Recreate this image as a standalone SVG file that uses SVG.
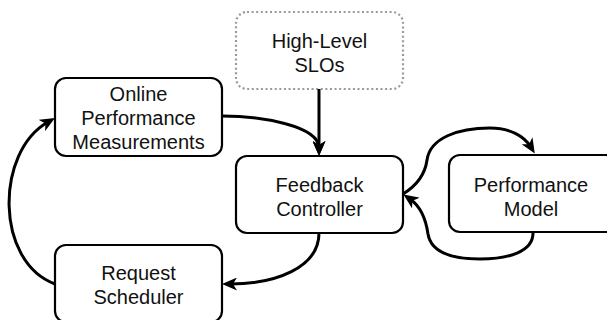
<svg xmlns="http://www.w3.org/2000/svg" width="607" height="320" viewBox="0 0 607 320">
<style>
.box{fill:#fff;stroke:#000;stroke-width:2.2}
.dot{fill:#fff;stroke:#999;stroke-width:2.2;stroke-dasharray:2 2.6}
.lbl{font-family:"Liberation Sans",Arial,Helvetica,sans-serif;font-size:20px;fill:#111;text-anchor:middle}
.edge{fill:none;stroke:#000;stroke-width:3}
</style>
<defs>
<marker id="arr" markerUnits="userSpaceOnUse" viewBox="0 0 15 13" markerWidth="15" markerHeight="13" refX="7" refY="6.5" orient="auto">
<path d="M0,0 L15,6.5 L0,13 L4,6.5 Z" fill="#000"/>
</marker>
</defs>
<g id="slos">
<rect class="dot" x="236" y="12" width="167" height="77" rx="11"/>
<text class="lbl" x="319.5" y="48">High-Level</text>
<text class="lbl" x="319.5" y="72">SLOs</text>
</g>
<g id="online">
<rect class="box" x="55" y="78" width="167" height="78" rx="11"/>
<text class="lbl" x="138.5" y="101">Online</text>
<text class="lbl" x="138.5" y="125">Performance</text>
<text class="lbl" x="138.5" y="149">Measurements</text>
</g>
<g id="feedback">
<rect class="box" x="236" y="156" width="167" height="77" rx="11"/>
<text class="lbl" x="319.5" y="192">Feedback</text>
<text class="lbl" x="319.5" y="216">Controller</text>
</g>
<g id="perfmodel">
<rect class="box" x="449" y="155" width="167" height="77" rx="11"/>
<text class="lbl" x="531" y="192">Performance</text>
<text class="lbl" x="531" y="216">Model</text>
</g>
<g id="scheduler">
<rect class="box" x="55" y="245" width="167" height="77" rx="11"/>
<text class="lbl" x="138.5" y="280">Request</text>
<text class="lbl" x="138.5" y="304">Scheduler</text>
</g>
<g id="connectors">
<path class="edge" d="M319,89 L319,148" marker-end="url(#arr)"/>
<path class="edge" d="M222,116 C262,116 319,126 319,148" marker-end="url(#arr)"/>
<path class="edge" d="M319,233 C319,268 275,284 230,284" marker-end="url(#arr)"/>
<path class="edge" d="M55,284 C-5,262 -5,152 48,122" marker-end="url(#arr)"/>
<path class="edge" d="M403,194 C416,186 425,175 427,160 C430,138 458,128 490,128 C510,128 524,136 530.6,146.7" marker-end="url(#arr)"/>
<path class="edge" d="M533,233 C533,252 508,259 480,259 C452,259 431,252 428,234 C426,220 420,206 410,199" marker-end="url(#arr)"/>
</g>
</svg>
